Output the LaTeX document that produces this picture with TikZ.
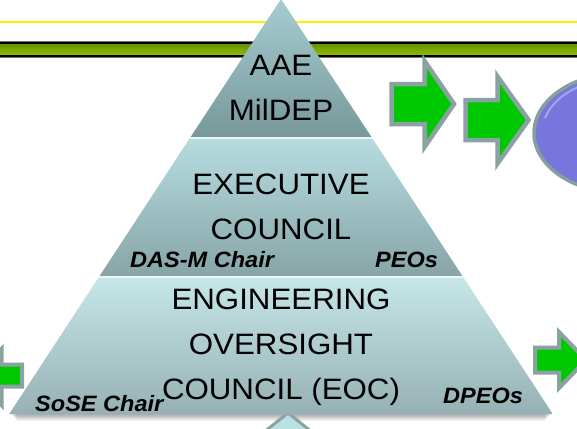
\documentclass[tikz,border=0pt]{standalone}
\usepackage{fontspec}
\setmainfont{Liberation Sans}
\newfontfamily\pyrfont[FakeStretch=1.06]{Liberation Sans}
\definecolor{arrgreen}{RGB}{0,200,0}
\definecolor{arrborder}{RGB}{138,162,162}
\definecolor{ellfill}{RGB}{118,118,220}
\definecolor{ellborder}{RGB}{135,158,158}
\begin{document}
\begin{tikzpicture}[x=1pt,y=-1pt,
  arrowshape/.style={fill=arrgreen,draw=arrborder,line width=4.5pt,line join=miter},
  big/.style={font=\pyrfont\fontsize{29.5}{30}\selectfont,inner sep=0pt,anchor=base},
  lab/.style={font=\pyrfont\bfseries\itshape\fontsize{22.2}{23}\selectfont,inner sep=0pt,anchor=base west}]
\useasboundingbox (0,0) rectangle (577,428);
\clip (0,0) rectangle (577,428);
\fill[white] (0,0) rectangle (577,428);
% yellow line
\draw[yellow,line width=1.6pt] (0,22) -- (577,22);
% green band
\fill[black!55] (0,41) rectangle (577,58);
\fill[black] (0,42) rectangle (577,57);
\shade[top color={rgb,255:red,105;green,150;blue,0}, bottom color={rgb,255:red,140;green,185;blue,0}] (0,44.5) rectangle (577,54.5);
% arrows
\draw[arrowshape] (391.5,84)--(424.5,84)--(424.5,61)--(454,104)--(424.5,147)--(424.5,124)--(391.5,124)--cycle;
\draw[arrowshape] (465.5,100)--(497.5,100)--(497.5,76.5)--(528.5,120)--(497.5,163.5)--(497.5,140)--(465.5,140)--cycle;
\draw[arrowshape,line width=4pt] (535,347.5)--(559,347.5)--(559,332)--(586,360)--(559,388)--(559,372.5)--(535,372.5)--cycle;
\draw[arrowshape,line width=4pt] (22,364.5)--(1.5,364.5)--(1.5,349)--(-24,376)--(1.5,405)--(1.5,386.5)--(22,386.5)--cycle;
% ellipse
\draw[fill=ellfill,draw=ellborder,line width=3.5pt] (622,133) ellipse [x radius=88, y radius=60];
\draw[white,opacity=0.35,line width=2pt] (545,118) arc[start angle=195,end angle=255,x radius=80,y radius=54];
% shadow under pyramid
\foreach \k in {1,...,7} \fill[black,opacity=0.05] (10+\k,414) rectangle (552-\k,414+\k);
% small triangle below
\draw[fill={rgb,255:red,185;green,225;blue,228},draw=arrborder,line width=3pt] (288,413) -- (322,440) -- (254,440) -- cycle;
% pyramid
\shade[top color={rgb,255:red,165;green,205;blue,210}, bottom color={rgb,255:red,120;green,152;blue,153}] (281,-1) -- (371.4,137) -- (190.6,137) -- cycle;
\shade[top color={rgb,255:red,182;green,220;blue,224}, bottom color={rgb,255:red,135;green,165;blue,167}] (189.6,138.5) -- (372.4,138.5) -- (462.4,276) -- (99.6,276) -- cycle;
\shade[top color={rgb,255:red,198;green,230;blue,232}, bottom color={rgb,255:red,150;green,177;blue,179}] (98.6,277.5) -- (463.4,277.5) -- (552.8,414) -- (9.2,414) -- cycle;
% texts
\node[big] (aae) at (281,75) {AAE};
\node[big] (mildep) at (281,120) {MilDEP};
\node[big] (exec) at (281,194) {EXECUTIVE};
\node[big] (council) at (281,239) {COUNCIL};
\node[lab] (dasm) at (130,267) {DAS-M Chair};
\node[lab] (peos) at (375,267) {PEOs};
\node[big] (eng) at (281,309) {ENGINEERING};
\node[big] (over) at (281,354) {OVERSIGHT};
\node[big] (eoc) at (281,399) {COUNCIL (EOC)};
\node[lab] (sose) at (35,411) {SoSE Chair};
\node[lab] (dpeos) at (443,403) {DPEOs};
\end{tikzpicture}
\end{document}
